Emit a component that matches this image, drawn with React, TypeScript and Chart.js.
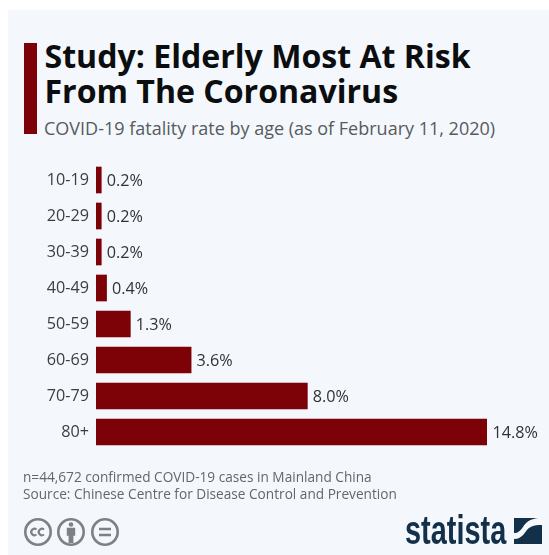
import React, { useEffect, useRef } from "react";
import { Chart, registerables } from "chart.js";

Chart.register(...registerables);

const categories = ["10-19", "20-29", "30-39", "40-49", "50-59", "60-69", "70-79", "80+"];
const fatalityRate = [0.2, 0.2, 0.2, 0.4, 1.3, 3.6, 8.0, 14.8];

const titleLines = ["Study: Elderly Most At Risk", "From The Coronavirus"];
const subtitle = "COVID-19 fatality rate by age (as of February 11, 2020)";
const noteLines = [
  "n=44,672 confirmed COVID-19 cases in Mainland China",
  "Source: Chinese Centre for Disease Control and Prevention",
];

const RED = "#7d0208";
const PANEL = "#f4f7fb";
const FONT = "'Open Sans', sans-serif";

const valueLabels = {
  id: "valueLabels",
  afterDatasetsDraw(chart: any) {
    const { ctx } = chart;
    const meta = chart.getDatasetMeta(0);
    ctx.save();
    ctx.font = `16.2px ${FONT}`;
    ctx.fillStyle = "#2f3336";
    ctx.textAlign = "left";
    ctx.textBaseline = "middle";
    meta.data.forEach((bar: any, i: number) => {
      ctx.fillText(fatalityRate[i].toFixed(1) + "%", bar.x + 5.5, bar.y + 1);
    });
    ctx.restore();
  },
};

function abs(left: number, top: number, extra: React.CSSProperties = {}): React.CSSProperties {
  return { position: "absolute", left, top, whiteSpace: "nowrap", fontFamily: FONT, ...extra };
}

export default function App() {
  const ref = useRef<HTMLCanvasElement>(null);

  useEffect(() => {
    document.body.style.margin = "0";
    const chart = new Chart(ref.current!, {
      type: "bar",
      data: {
        labels: categories,
        datasets: [
          {
            data: fatalityRate,
            backgroundColor: RED,
            barThickness: 26,
            borderWidth: 0,
          },
        ],
      },
      plugins: [valueLabels],
      options: {
        indexAxis: "y",
        animation: false,
        responsive: false,
        layout: { padding: { left: 0, right: 62, top: 162, bottom: 105 } },
        plugins: { legend: { display: false }, tooltip: { enabled: false } },
        scales: {
          x: { min: 0, max: 14.8, display: false },
          y: {
            grid: { display: false, drawTicks: false },
            border: { display: false },
            afterFit(scale: any) {
              scale.width = 96;
            },
            ticks: {
              color: "#3a3f43",
              font: { family: "'Open Sans', sans-serif", size: 16.2 },
              padding: 7,
            },
          },
        },
      },
    } as any);
    return () => chart.destroy();
  }, []);

  return (
    <div style={{ position: "relative", width: 549, height: 555, background: "#fff", overflow: "hidden" }}>
      <div style={{ position: "absolute", left: 8, top: 10, right: 0, bottom: 0, background: PANEL }} />
      <div style={{ position: "absolute", left: 24, top: 43, width: 13, height: 91, background: RED }} />
      {titleLines.map((t, i) => (
        <div key={t} style={abs(44.5, 35.5 + i * 35.5, { fontSize: 32.1, fontWeight: 700, lineHeight: "40px", color: "#0b0d0f" })}>
          {t}
        </div>
      ))}
      <div style={abs(44, 116, { fontSize: 18, lineHeight: "24px", color: "#565b60" })}>{subtitle}</div>
      <canvas ref={ref} width={549} height={555} style={{ position: "absolute", left: 0, top: 0 }} />
      {noteLines.map((t, i) => (
        <div key={t} style={abs(23, 468 + i * 16.5, { fontSize: 13.65, lineHeight: "18px", color: "#62676c" })}>
          {t}
        </div>
      ))}
      <svg style={{ position: "absolute", left: 23, top: 517 }} width={96} height={30} viewBox="0 0 96 30">
        <g fill="none" stroke="#7c8185" strokeWidth={2.6}>
          <circle cx={15} cy={15} r={12.7} />
          <circle cx={48} cy={15} r={12.7} />
          <circle cx={82} cy={15} r={12.7} />
          <path strokeWidth={2.2} d="M13.5 12.5a3.2 3.2 0 1 0 0 5M21 12.5a3.2 3.2 0 1 0 0 5" />
          <path d="M76 12h12M76 18h12" />
        </g>
        <circle cx={48} cy={7.5} r={2.3} fill="#7c8185" />
        <path d="M43.8 10.8h8.4v8h-1.8v7.2h-4.8v-7.2h-1.8z" fill="#7c8185" />
      </svg>
      <div
        style={abs(404.5, 506, {
          fontFamily: "'Liberation Sans', sans-serif",
          fontSize: 41,
          fontWeight: 700,
          lineHeight: "48px",
          color: "#12304a",
          transform: "scaleX(0.705)",
          transformOrigin: "left center",
        })}
      >
        statista
      </div>
      <svg style={{ position: "absolute", left: 514, top: 518 }} width={28} height={26} viewBox="0 0 28 26">
        <rect width={28} height={26} fill="#12304a" />
        <path d="M0 21 C9 21 11 13 15 10 C18 7.5 23 7 28 7 L28 0 L24 0 C16 1 12 4 9 9 C6 13 4 15 0 15 Z" fill={PANEL} />
      </svg>
    </div>
  );
}
